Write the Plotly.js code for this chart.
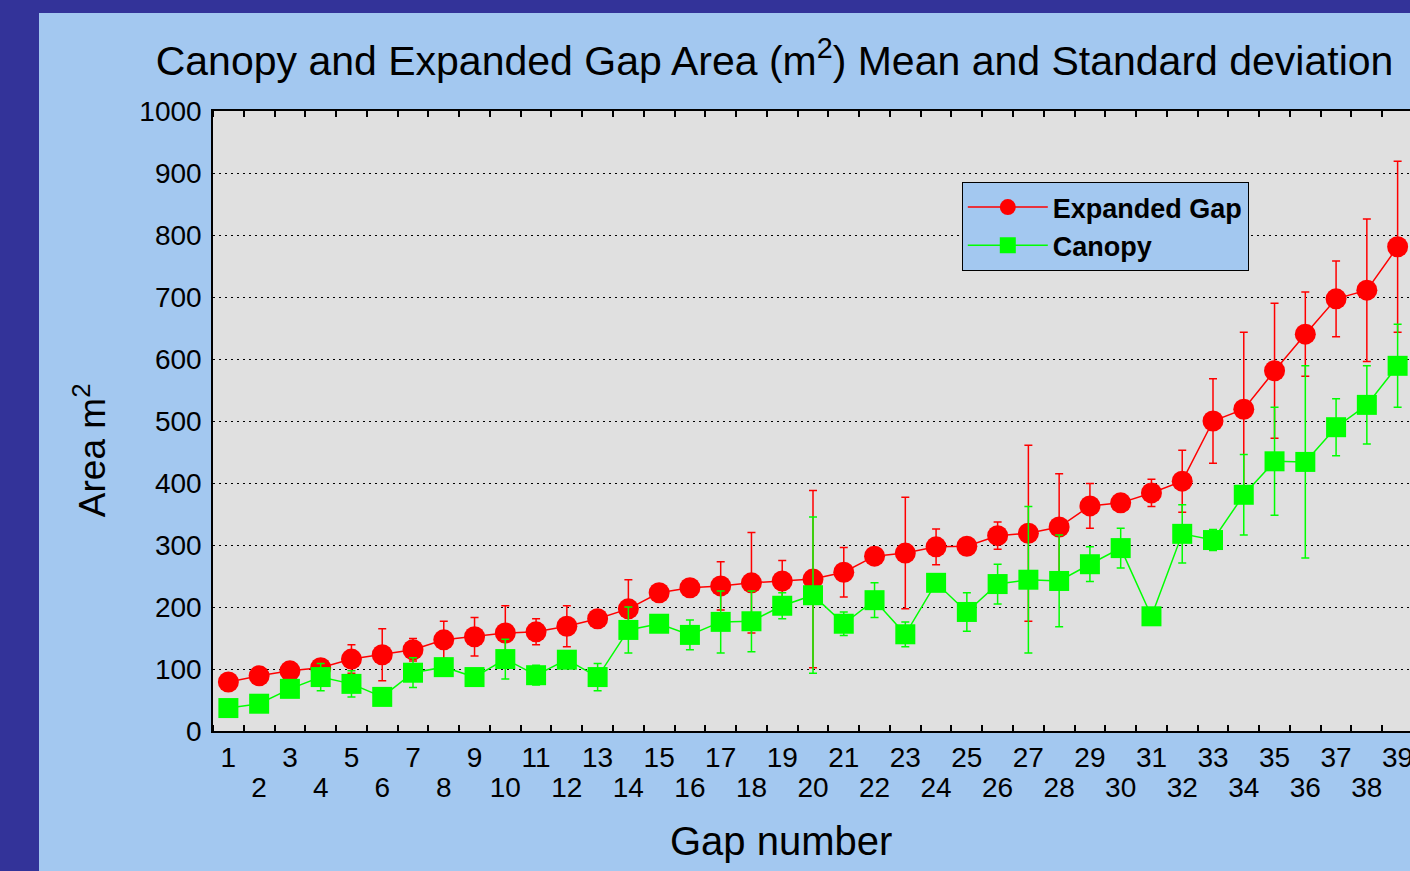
<!DOCTYPE html>
<html>
<head>
<meta charset="utf-8">
<script src="https://cdn.plot.ly/plotly-3.0.1.min.js"></script>
<style>
  html, body { margin: 0; padding: 0; width: 1410px; height: 871px; overflow: hidden; background: #333399; }
  #chart { position: absolute; left: 39px; top: 13px; width: 1391px; height: 858px; }
</style>
</head>
<body>
<div id="chart"></div>
<script>
// ---- data ----
const gapNumbers = [1,2,3,4,5,6,7,8,9,10,11,12,13,14,15,16,17,18,19,20,21,22,23,24,25,26,27,28,29,30,31,32,33,34,35,36,37,38,39];
const expandedMean = [79,89,97,102,116,123,131,147,152,158,160,169,181,197,223,231,234,239,242,245,256,282,287,297,298,315,319,329,363,368,384,403,500,519,581,640,697,711,781];
const expandedSD   = [8,8,8,8,23,42,18,30,31,44,21,33,8,47,8,8,39,81,33,143,40,8,90,29,8,22,142,86,36,8,22,50,68,124,109,68,61,115,138];
const canopyMean   = [37,44,68,87,76,55,94,103,87,116,90,115,87,163,173,155,176,177,202,219,173,211,156,239,192,237,244,242,269,295,185,318,308,381,435,434,490,526,589];
const canopySD     = [6,6,6,22,21,6,24,6,6,32,16,6,22,37,6,24,50,49,21,126,19,28,20,6,31,32,118,74,28,32,6,47,17,65,87,155,46,63,67];
const oddTicks  = gapNumbers.filter(n => n % 2 === 1);
const evenTicks = gapNumbers.filter(n => n % 2 === 0);
const oddLabels  = oddTicks.map(String);
const evenLabels = evenTicks.map(String);
const yTicks = [0,100,200,300,400,500,600,700,800,900,1000];

const FONT = 'Liberation Sans, Arial, sans-serif';

const traces = [
  {
    x: gapNumbers, y: expandedMean, name: 'Expanded Gap', type: 'scatter', mode: 'lines+markers',
    xaxis: 'x', yaxis: 'y',
    line: {color: '#ff0000', width: 1.5},
    marker: {symbol: 'circle', size: 21, color: '#ff0000'},
    error_y: {type: 'data', array: expandedSD, visible: true, color: '#ff0000', thickness: 1.5, width: 4}
  },
  {
    x: gapNumbers, y: canopyMean, name: 'Canopy', type: 'scatter', mode: 'lines+markers',
    xaxis: 'x2', yaxis: 'y',
    line: {color: '#00ff00', width: 1.5},
    marker: {symbol: 'square', size: 20, color: '#00ff00'},
    error_y: {type: 'data', array: canopySD, visible: true, color: '#00ff00', thickness: 1.5, width: 4}
  }
];

const layout = {
  width: 1391, height: 858,
  margin: {l: 174, r: 17, t: 98, b: 140},
  paper_bgcolor: '#a3c8f0',
  plot_bgcolor: '#e0e0e0',
  font: {family: FONT, color: '#000000', size: 28},
  title: {
    text: 'Canopy and Expanded Gap Area (m<sup>2</sup>) Mean and Standard deviation',
    font: {family: FONT, size: 41, color: '#000000'},
    xref: 'container', x: 0.5288, xanchor: 'center',
    yref: 'container', y: 0.944, yanchor: 'middle'
  },
  xaxis: {
    range: [0.5, 39.5],
    tickmode: 'array', tickvals: oddTicks, ticktext: oddLabels,
    tickangle: 0,
    ticks: '', tickfont: {family: FONT, size: 28, color: '#000'},
    showgrid: false, zeroline: false,
    showline: true, linecolor: '#000', linewidth: 1.5, mirror: 'allticks',
    minor: {ticks: 'inside', tickmode: 'linear', tick0: 0.5, dtick: 1, ticklen: 6, tickwidth: 1.5, tickcolor: '#000', showgrid: false},
    ticklabelstandoff: 1
  },
  xaxis2: {
    overlaying: 'x', matches: 'x', anchor: 'y', side: 'bottom',
    range: [0.5, 39.5],
    tickmode: 'array', tickvals: evenTicks, ticktext: evenLabels,
    tickangle: 0,
    ticks: '', tickfont: {family: FONT, size: 28, color: '#000'},
    showgrid: false, zeroline: false, showline: false,
    ticklabelstandoff: 37
  },
  yaxis: {
    range: [0, 1000],
    tickmode: 'array', tickvals: yTicks,
    ticks: '', tickfont: {family: FONT, size: 28, color: '#000'},
    showgrid: true, gridcolor: '#000000', gridwidth: 1, griddash: '2px,4px',
    zeroline: false,
    showline: true, linecolor: '#000', linewidth: 1.5, mirror: true,
    ticklabelstandoff: 4
  },
  showlegend: true,
  legend: {
    x: 0.624, y: 0.8855, xanchor: 'left', yanchor: 'top',
    bgcolor: '#a3c8f0', bordercolor: '#000', borderwidth: 1,
    font: {family: FONT, size: 27, color: '#000', weight: 'bold'},
    itemsizing: 'trace', itemwidth: 80, tracegroupgap: 0
  },
  annotations: [
    {
      text: 'Area m<sup>2</sup>', xref: 'paper', yref: 'paper', x: -0.1025, y: 0.453,
      xanchor: 'center', yanchor: 'middle', textangle: -90, showarrow: false,
      font: {family: FONT, size: 37, color: '#000'}
    },
    {
      text: 'Gap number', xref: 'paper', yref: 'paper', x: 0.4733, y: -0.177,
      xanchor: 'center', yanchor: 'middle', showarrow: false,
      font: {family: FONT, size: 40, color: '#000'}
    }
  ]
};

Plotly.newPlot('chart', traces, layout, {displayModeBar: false, responsive: false});
</script>
</body>
</html>
